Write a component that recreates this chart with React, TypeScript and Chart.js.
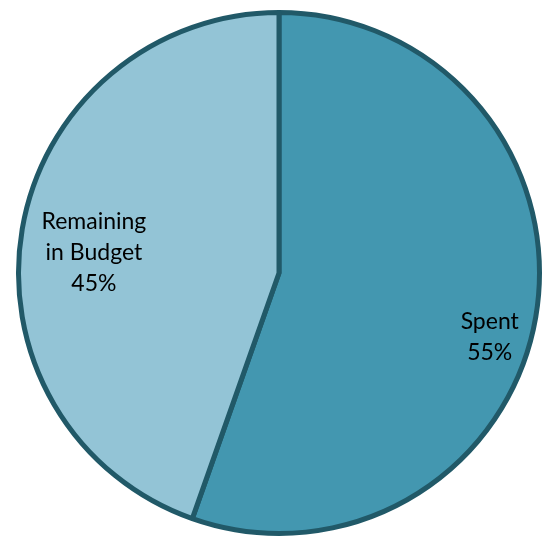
import React, { useEffect, useRef } from "react";
import { Chart, registerables } from "chart.js";

Chart.register(...registerables);

const categories = ["Spent", "Remaining in Budget"];
const values = [55.4, 44.6];
const labelNames = [["Spent"], ["Remaining", "in Budget"]];
const fills = ["#4397b0", "#93c4d6"];

// label anchor: angle clockwise from top (deg) and fraction of radius
const labelAngles = [106.8, 276.4];
const labelRadii = [0.845, 0.715];

export default function App() {
  const ref = useRef<HTMLCanvasElement | null>(null);
  useEffect(() => {
    if (!ref.current) return;
    const labelPlugin = {
      id: "pieLabels",
      afterDatasetsDraw(chart: any) {
        const ctx = chart.ctx;
        const meta = chart.getDatasetMeta(0);
        const data = chart.data.datasets[0].data as number[];
        const total = data.reduce((s, v) => s + v, 0);
        ctx.save();
        ctx.fillStyle = "#000000";
        ctx.font = "23px Lato";
        ctx.textAlign = "center";
        ctx.textBaseline = "middle";
        const lh = 31;
        meta.data.forEach((arc: any, i: number) => {
          const a = (labelAngles[i] * Math.PI) / 180;
          const r = arc.outerRadius * labelRadii[i];
          const cx = arc.x + r * Math.sin(a);
          const cy = arc.y - r * Math.cos(a);
          const lines = [...labelNames[i], Math.round((data[i] / total) * 100) + "%"];
          const start = cy - ((lines.length - 1) * lh) / 2;
          lines.forEach((t, j) => ctx.fillText(t, cx, start + j * lh));
        });
        ctx.restore();
      },
    };
    const chart = new Chart(ref.current, {
      type: "pie",
      data: {
        labels: categories,
        datasets: [
          {
            data: values,
            backgroundColor: fills,
            borderColor: "#215968",
            borderWidth: 5,
          },
        ],
      },
      options: {
        responsive: false,
        animation: false,
        layout: { padding: { left: 16, right: 0, top: 10, bottom: 6 } },
        plugins: { legend: { display: false }, tooltip: { enabled: false } },
      },
      plugins: [labelPlugin],
    });
    return () => chart.destroy();
  }, []);
  return (
    <div style={{ position: "fixed", left: 0, top: 0, width: 542, height: 542, background: "#ffffff" }}>
      <canvas ref={ref} width={542} height={542} style={{ width: 542, height: 542 }} />
    </div>
  );
}
